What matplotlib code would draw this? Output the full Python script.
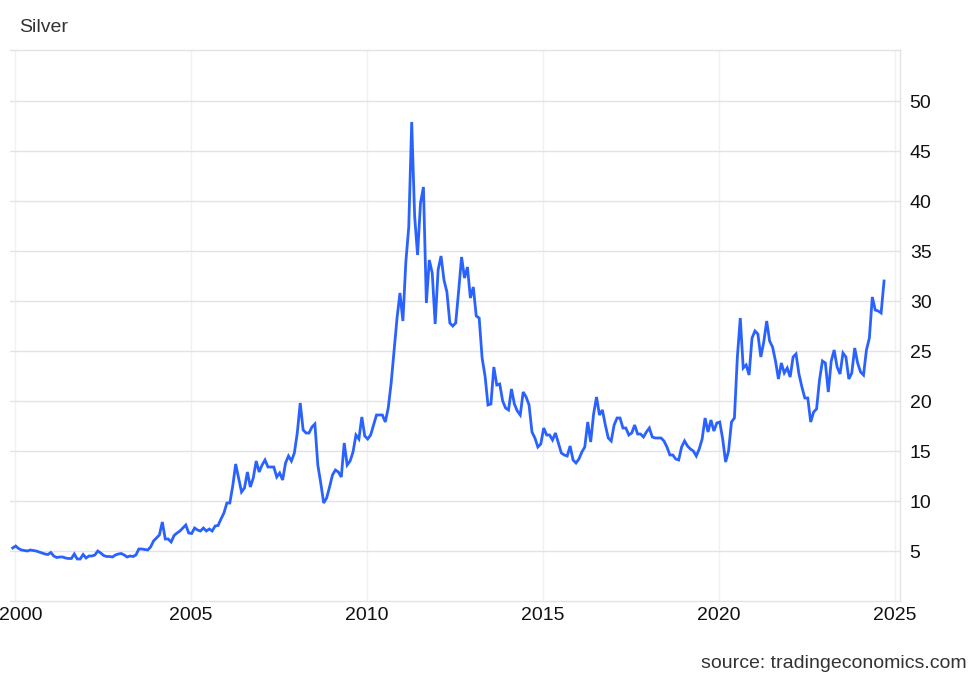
import matplotlib
matplotlib.use("Agg")
import matplotlib.pyplot as plt
import matplotlib.transforms as mtransforms
import numpy as np

plt.rcParams['font.family'] = ['Liberation Sans', 'DejaVu Sans']

# Monthly silver price (USD/t.oz), starting Dec 1999
start_year, start_month = 1999, 12
v1999 = [5.30]
v2000 = [5.50, 5.25, 5.10, 5.05, 5.00, 5.10, 5.05, 5.00, 4.90, 4.80, 4.70, 4.65]
v2001 = [4.85, 4.50, 4.35, 4.40, 4.40, 4.30, 4.25, 4.25, 4.70, 4.20, 4.20, 4.65]
v2002 = [4.30, 4.50, 4.50, 4.60, 5.00, 4.80, 4.55, 4.45, 4.45, 4.40, 4.60, 4.70]
v2003 = [4.75, 4.60, 4.40, 4.50, 4.45, 4.60, 5.20, 5.20, 5.15, 5.10, 5.40, 6.00]
v2004 = [6.30, 6.60, 7.90, 6.20, 6.20, 5.90, 6.55, 6.80, 7.00, 7.30, 7.60, 6.80]
v2005 = [6.75, 7.30, 7.10, 7.00, 7.30, 7.00, 7.20, 7.00, 7.50, 7.55, 8.20, 8.80]
v2006 = [9.80, 9.80, 11.50, 13.70, 12.30, 10.90, 11.30, 12.90, 11.40, 12.30, 14.00, 12.90]
v2007 = [13.60, 14.10, 13.40, 13.40, 13.40, 12.40, 12.80, 12.10, 13.80, 14.50, 14.00, 14.80]
v2008 = [16.80, 19.80, 17.10, 16.80, 16.80, 17.40, 17.70, 13.60, 11.80, 9.80, 10.30, 11.40]
v2009 = [12.60, 13.10, 12.90, 12.40, 15.80, 13.60, 14.00, 14.90, 16.60, 16.20, 18.40, 16.50]
v2010 = [16.20, 16.60, 17.60, 18.60, 18.60, 18.60, 17.90, 19.30, 21.80, 25.00, 28.30, 30.80]
v2011 = [28.00, 33.90, 37.40, 47.90, 38.50, 34.60, 39.80, 41.40, 29.80, 34.10, 32.80, 27.70]
v2012 = [33.10, 34.50, 32.10, 30.90, 27.80, 27.50, 27.80, 31.00, 34.40, 32.30, 33.40, 30.30]
v2013 = [31.40, 28.50, 28.30, 24.30, 22.50, 19.60, 19.70, 23.40, 21.60, 21.70, 20.00, 19.30]
v2014 = [19.10, 21.20, 19.70, 19.00, 18.60, 20.90, 20.40, 19.60, 16.90, 16.30, 15.40, 15.70]
v2015 = [17.30, 16.60, 16.60, 16.10, 16.80, 15.80, 14.80, 14.60, 14.50, 15.50, 14.10, 13.80]
v2016 = [14.20, 14.90, 15.40, 17.90, 15.90, 18.70, 20.40, 18.60, 19.10, 17.60, 16.30, 16.00]
v2017 = [17.60, 18.30, 18.30, 17.30, 17.30, 16.60, 16.80, 17.60, 16.70, 16.70, 16.40, 16.90]
v2018 = [17.30, 16.40, 16.30, 16.30, 16.30, 16.00, 15.40, 14.60, 14.60, 14.20, 14.10, 15.40]
v2019 = [16.00, 15.50, 15.20, 15.00, 14.50, 15.20, 16.20, 18.30, 16.90, 18.10, 17.00, 17.80]
v2020 = [17.90, 16.20, 13.90, 15.00, 17.90, 18.30, 24.40, 28.30, 23.30, 23.60, 22.60, 26.30]
v2021 = [27.00, 26.70, 24.40, 25.90, 28.00, 26.00, 25.40, 24.00, 22.20, 23.80, 22.80, 23.30]
v2022 = [22.40, 24.40, 24.70, 22.70, 21.40, 20.30, 20.30, 17.90, 18.90, 19.20, 22.10, 24.00]
v2023 = [23.80, 20.90, 24.00, 25.10, 23.40, 22.70, 24.80, 24.40, 22.20, 22.80, 25.30, 23.80]
v2024 = [22.90, 22.60, 25.10, 26.30, 30.40, 29.10, 29.00, 28.80, 32.00]

values = (v1999 + v2000 + v2001 + v2002 + v2003 + v2004 + v2005 + v2006 + v2007
          + v2008 + v2009 + v2010 + v2011 + v2012 + v2013 + v2014 + v2015 + v2016
          + v2017 + v2018 + v2019 + v2020 + v2021 + v2022 + v2023 + v2024)

x_ticks = [2000, 2005, 2010, 2015, 2020, 2025]
y_ticks = [5, 10, 15, 20, 25, 30, 35, 40, 45, 50]

n = len(values)
months = np.arange(n)
t = start_year + (start_month - 1) / 12 + months / 12 + 0.02

fig = plt.figure(figsize=(9.8, 6.79), dpi=100)
ax = fig.add_axes([10 / 980, (679 - 601) / 679, 890 / 980, 551 / 679])

ax.plot(t, values, color='#2962ff', lw=2.0, solid_joinstyle='miter', zorder=3)

ax.set_xlim(1999.86, 2025.14)
ax.set_ylim(0, 55.1)

ax.set_xticks(x_ticks)
ax.set_xticklabels([str(v) for v in x_ticks])
ax.set_yticks(y_ticks)
ax.set_yticklabels([str(v) for v in y_ticks])
ax.yaxis.tick_right()

ax.tick_params(axis='x', length=0, pad=4, labelsize=14, labelcolor='#111111')
ax.tick_params(axis='y', length=0, pad=7, labelsize=14, labelcolor='#111111')

# nudge the first x label so it stays inside the canvas
first = ax.get_xticklabels()[0]
first.set_transform(first.get_transform() +
                    mtransforms.ScaledTranslation(6 / 100, 0, fig.dpi_scale_trans))

ax.grid(axis='y', color='#e3e3e3', lw=1.0, zorder=0)
ax.grid(axis='x', color='#eef1f6', lw=1.0, zorder=0)

ax.spines['left'].set_visible(False)
for s in ['top', 'bottom', 'right']:
    ax.spines[s].set_color('#e3e3e3')
    ax.spines[s].set_linewidth(1.0)

fig.text(19 / 980, 1 - 27 / 679, 'Silver', fontsize=14, color='#333333',
         ha='left', va='center')
fig.text(967 / 980, 1 - 663 / 679, 'source: tradingeconomics.com', fontsize=14,
         color='#333333', ha='right', va='center')

fig.savefig('out.png', dpi=100)
